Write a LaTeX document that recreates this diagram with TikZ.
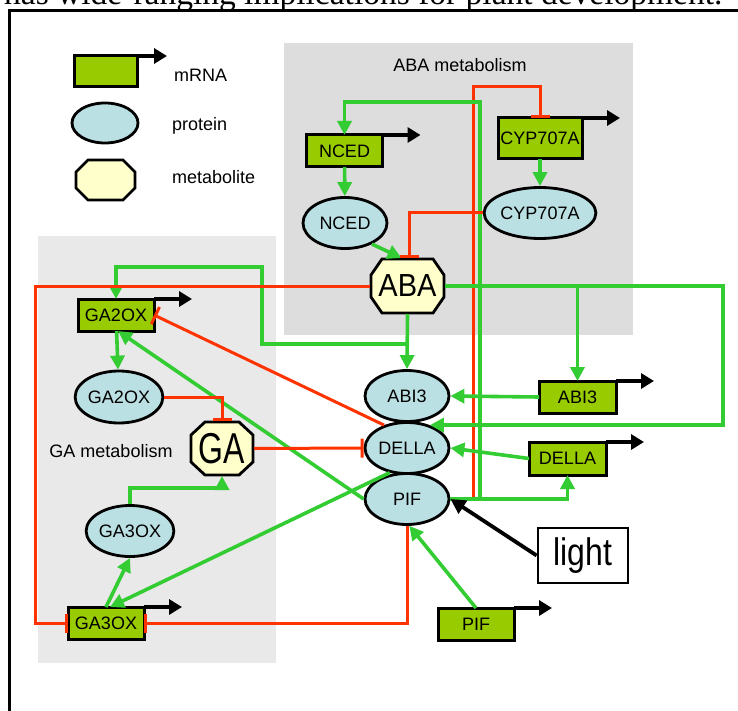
\documentclass[tikz,border=0pt]{standalone}
\usepackage{fontspec}
\setmainfont{Liberation Sans}
\newfontfamily\paperfont{Liberation Serif}
\usetikzlibrary{arrows.meta,shapes.geometric}

\definecolor{mrnagreen}{HTML}{99CC00}
\definecolor{protblue}{HTML}{BBE0E3}
\definecolor{metayellow}{HTML}{FFFFCC}
\definecolor{actgreen}{HTML}{33CC33}
\definecolor{inhred}{HTML}{FF3300}
\definecolor{abagrey}{HTML}{DDDDDD}
\definecolor{gagrey}{HTML}{E9E9E9}

\newcommand{\lbl}{\fontsize{18pt}{20pt}\selectfont}
% octagon round a metabolite: centre x, centre y, half width, half height, cut x, cut y
\newcommand{\metaoct}[6]{%
  \filldraw[metabolite] (#1-#3+#5,#2-#4) -- (#1+#3-#5,#2-#4) -- (#1+#3,#2-#4+#6)
    -- (#1+#3,#2+#4-#6) -- (#1+#3-#5,#2+#4) -- (#1-#3+#5,#2+#4)
    -- (#1-#3,#2+#4-#6) -- (#1-#3,#2-#4+#6) -- cycle;}

\tikzset{
  mrna/.style={draw, fill=mrnagreen, line width=3pt, outer sep=0pt, inner sep=0pt,
    minimum width=76pt, minimum height=32pt},
  protein/.style={ellipse, draw, fill=protblue, line width=2.8pt, inner sep=0pt,
    minimum width=84pt, minimum height=51pt},
  metabolite/.style={draw, fill=metayellow, line width=2.8pt},
  meta/.style={inner sep=0pt, outer sep=1pt},
  act/.style={draw=actgreen, line width=3.6pt, -{Triangle[length=14pt,width=14pt]}},
  inh/.style={draw=inhred, line width=3pt, -{Bar[width=19pt]}},
  trans/.style={draw=black, line width=3.4pt, -{Triangle[length=13pt,width=15pt]}}
}

\begin{document}
\begin{tikzpicture}[x=1pt,y=-1pt,every node/.style={font=\lbl}]
  \useasboundingbox (0,0) rectangle (738,711);
  \clip (0,0) rectangle (738,711);

  %Page line above the figure
  \node[anchor=base west, inner sep=0pt, font=\paperfont\fontsize{33.5pt}{36pt}\selectfont]
    (pageline) at (4,5) {has wide-ranging implications for plant development.};

  %Frame
  \draw[line width=3pt] (9.5,711) -- (9.5,11) -- (738,11);

  %Regions
  \fill[abagrey] (284,43) rectangle (633,335);
  \fill[gagrey] (38,236) rectangle (276,663);
  \node[anchor=base] (abalabel) at (460,72) {ABA metabolism};
  \node[anchor=base] (galabel) at (111,457) {GA metabolism};

  %Legend
  \node[mrna, minimum width=63pt, minimum height=31pt] (legmrna) at (105.5,71.5) {};
  \node[anchor=base west, inner sep=0pt] (legmrnatext) at (174,82) {mRNA};
  \node[protein, minimum width=66pt, minimum height=40pt] (legprotein) at (105,123) {};
  \node[anchor=base west, inner sep=0pt] (legproteintext) at (172,131) {protein};
  \metaoct{105.5}{180}{29.5}{20}{12}{12}
  \node[meta, minimum width=59pt, minimum height=40pt] (legmeta) at (105.5,180) {};
  \node[anchor=base west, inner sep=0pt] (legmetatext) at (172,184) {metabolite};

  %mRNA
  \node[mrna] (NCEDm) at (344.5,151) {NCED};
  \node[mrna, minimum width=84pt, minimum height=41pt] (CYPm) at (540,138.5) {CYP707A};
  \node[mrna] (GA2OXm) at (116,315) {GA2OX};
  \node[mrna] (GA3OXm) at (106,623) {GA3OX};
  \node[mrna, minimum width=77pt] (ABI3m) at (577.5,397) {ABI3};
  \node[mrna, minimum width=77pt, minimum height=33pt] (DELLAm) at (567.5,458.5) {DELLA};
  \node[mrna] (PIFm) at (476,624) {PIF};

  %Protein
  \node[protein] (NCEDp) at (345,223) {NCED};
  \node[protein] (CYPp) at (540,213) {CYP707A};
  \node[protein, minimum width=83pt, minimum height=52pt] (GA2OXp) at (119,397) {GA2OX};
  \node[protein] (GA3OXp) at (130,531) {GA3OX};
  \node[protein] (ABI3p) at (407,396) {ABI3};
  \node[protein] (DELLAp) at (407,448) {DELLA};
  \node[protein] (PIFp) at (407,499) {PIF};

  %Metabolite
  \metaoct{407.5}{286}{36.5}{27}{11}{16}
  \node[meta, minimum width=73pt, minimum height=54pt,
    font=\fontsize{29pt}{32pt}\selectfont] (ABA) at (407.5,286) {\scalebox{1}[1.1]{ABA}};
  \metaoct{222}{448.5}{31}{26.5}{14}{13}
  \node[meta, minimum width=62pt, minimum height=53pt,
    font=\fontsize{32pt}{34pt}\selectfont] (GA) at (222,448.5) {\scalebox{1}[1.35]{GA}};

  \node[draw, fill=white, line width=2.8pt, minimum width=90pt, minimum height=55pt,
    inner sep=0pt, font=\fontsize{32pt}{34pt}\selectfont] (light) at (583,555.5)
    {\scalebox{1}[1.2]{light}};

  \foreach \m in {NCEDm,CYPm,GA2OXm,GA3OXm,ABI3m,DELLAm,PIFm}
    \draw[trans] (\m.north east) -- ++(38,0);
  \draw[trans] (legmrna.north east) -- ++(30,0);

  %PIF on CYP707A
  \draw[inh] (PIFp.east) -| (473,87) -| (CYPm.north);

  %Activation
  \draw[act] (NCEDm) -- (NCEDp);
  \draw[act] (CYPm) -- (CYPp);
  \draw[act] (NCEDp.-38) -- ([xshift=-6pt]ABA.north);
  \draw[act] (PIFp.east) -| (480,102) -| (NCEDm.north);
  \draw[act] (PIFp.east) -| (DELLAm.south);
  \draw[act] (ABA.east) -- (723,286) |- (DELLAp.45);
  \draw[act] (ABA.east -| ABI3m.north) -- (ABI3m.north);
  \draw[act] (ABA.south) -- (ABI3p.north);
  \draw[act] (ABA.south) |- (262,344) -- (262,267) -| (GA2OXm.north);
  \draw[act] (GA2OXm) -- (GA2OXp);
  \draw[act] (GA3OXp.north) -- ++(0,-16) -| (GA.south);
  \draw[act] (GA3OXm.north) -- (GA3OXp.south);
  \draw[act] (DELLAp.235) -- ([xshift=4pt]GA3OXm.north);
  \draw[act] (PIFp.west) -- ([xshift=2pt]GA2OXm.south);
  \draw[act] (ABI3m.west) -- (ABI3p.east);
  \draw[act] (DELLAm.west) -- (DELLAp.east);
  \draw[act] (PIFm.north) -- (PIFp.-85);

  %Inhibition
  \draw[inh] (CYPp.west) -| ([xshift=2pt]ABA.north);
  \draw[inh] (ABA.west) -| (35,623) -- (GA3OXm.west);
  \draw[inh] (PIFp.south) |- (GA3OXm.east);
  \draw[inh] (GA2OXp.east) -| (GA.north);
  \draw[inh] (DELLAp.135) -- (GA2OXm.east);
  \draw[inh] (GA.east) -- (DELLAp.west);

  %Light
  \draw[line width=3.8pt, -{Triangle[length=15pt,width=15pt]}] (light.west) -- (PIFp.east);
\end{tikzpicture}
\end{document}
